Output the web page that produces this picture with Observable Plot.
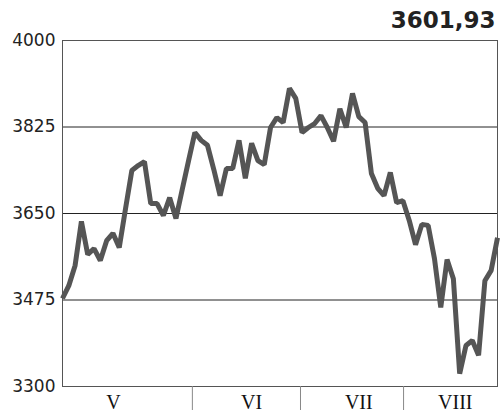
<!DOCTYPE html>
<html>
<head>
<meta charset="utf-8">
<script src="https://cdn.jsdelivr.net/npm/d3@7"></script>
<script src="https://cdn.jsdelivr.net/npm/@observablehq/plot@0.6"></script>
<style>
  html, body { margin: 0; padding: 0; background: #fff; }
  #chart { position: relative; width: 500px; height: 419px; }
</style>
</head>
<body>
<div id="chart"></div>
<script>
// Daily index closes (trading-day order)
const values = [
  3478, 3504, 3545, 3634, 3567, 3579, 3555, 3595, 3610, 3581,
  3660, 3737, 3747, 3755, 3670, 3670, 3646, 3682, 3640, 3699,
  3757, 3814, 3798, 3788, 3739, 3686, 3741, 3741, 3798, 3721,
  3792, 3757, 3749, 3824, 3844, 3834, 3903, 3883, 3814, 3824,
  3832, 3848, 3824, 3796, 3862, 3824, 3893, 3846, 3834, 3731,
  3701, 3686, 3733, 3672, 3676, 3636, 3587, 3628, 3626, 3559,
  3460, 3557, 3518, 3326, 3383, 3393, 3363, 3514, 3535, 3601
];
const yTicks = [3300, 3475, 3650, 3825, 4000];
const months = ["V", "VI", "VII", "VIII"];
const monthLabelPos = [8.1, 30.0, 47.0, 62.3];   // in trading-day units
const monthBreaks = [20.6, 37.75, 54.1];        // in trading-day units
const lastValueLabel = "3601,93";

const data = values.map((v, i) => ({i, v}));

const chart = Plot.plot({
  width: 500,
  height: 419,
  marginLeft: 62,
  marginRight: 3,
  marginTop: 40,
  marginBottom: 33,
  style: {fontFamily: "DejaVu Sans", background: "#fff"},
  x: {domain: [0, values.length - 1]},
  y: {domain: [3300, 4000]},
  marks: [
    Plot.gridY(yTicks, {stroke: "#222", strokeOpacity: 1, strokeWidth: 1}),
    Plot.frame({stroke: "#555", strokeWidth: 1}),
    Plot.axisY({
      ticks: yTicks, tickSize: 0, tickPadding: 7,
      fontSize: 17, fill: "#222", tickFormat: d => String(d), label: null
    }),
    Plot.axisX({
      ticks: monthBreaks, tickSize: 24, stroke: "#888",
      tickFormat: () => "", label: null
    }),
    Plot.axisX({
      ticks: monthLabelPos, tickSize: 0, tickPadding: 8,
      fontSize: 20, fontFamily: "Liberation Serif", fill: "#111",
      tickFormat: (d, k) => months[k], label: null
    }),
    Plot.line(data, {
      x: "i", y: "v", stroke: "#555", strokeWidth: 5,
      strokeLinejoin: "miter", strokeLinecap: "butt"
    }),
    Plot.text([lastValueLabel], {
      frameAnchor: "top-right", dy: -29, dx: -2, text: d => d,
      fontSize: 23, fontWeight: "bold", fill: "#222", textAnchor: "end"
    })
  ]
});
document.getElementById("chart").appendChild(chart);
</script>
</body>
</html>
